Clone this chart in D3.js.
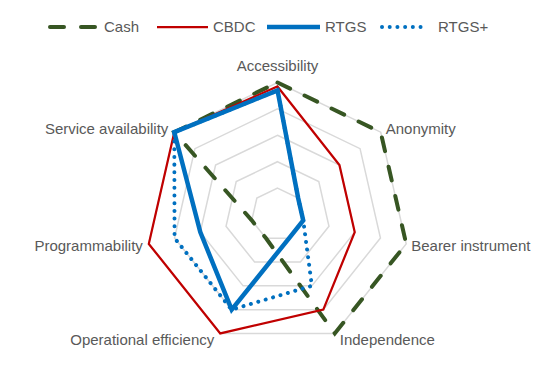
<!DOCTYPE html>
<html>
<head>
<meta charset="utf-8">
<script src="https://cdn.jsdelivr.net/npm/d3@7"></script>
<style>
body { margin: 0; background: #fff; }
text { font-family: "Liberation Sans", Arial, sans-serif; font-size: 15px; fill: #595959; }
</style>
</head>
<body>
<div id="chart"></div>
<script>
//data

var axisLabels = ['Accessibility', 'Anonymity', 'Bearer instrument', 'Independence',
	'Operational efficiency', 'Programmability', 'Service availability'];
var seriesNames = ['Cash', 'CBDC', 'RTGS', 'RTGS+'];
var cash = [5, 5, 5, 5, 1, 1, 5];
var cbdc = [4.85, 3, 3, 4, 5, 5, 5];
var rtgs = [4.7, 1, 1, 1, 4, 3, 5];
var rtgsPlus = [4.7, 1, 1, 3, 4, 4, 5];
var ringValues = [1, 2, 3, 4, 5];


//constants

var width = 557,
	height = 366,
	cx = 277.5,
	cy = 214.5,
	radius = 132;

var styles = [
	{color: '#375623', width: 4, dash: '14,16', cap: 'round'},
	{color: '#c00000', width: 2.25, dash: null, cap: 'butt'},
	{color: '#0070c0', width: 4.5, dash: null, cap: 'butt'},
	{color: '#0070c0', width: 4, dash: '0.01,7.7', cap: 'round'}
];


//drawing area

var svg = d3.select('#chart')
	.append('svg')
	.attr('width', width)
	.attr('height', height);

var r = d3.scaleLinear().domain([0, 5]).range([0, radius]);
var angle = d3.scaleLinear().domain([0, axisLabels.length]).range([0, 2 * Math.PI]);

var radar = d3.lineRadial()
	.angle(function(d, i){ return angle(i); })
	.radius(function(d){ return r(d); })
	.curve(d3.curveLinearClosed);

var g = svg.append('g').attr('transform', 'translate(' + cx + ',' + cy + ')');


//grid rings

g.selectAll('path.ring')
	.data(ringValues)
	.enter()
	.append('path')
	.classed('ring', true)
	.attr('d', function(v){ return radar(axisLabels.map(function(){ return v; })); })
	.attr('fill', 'none')
	.attr('stroke', '#d9d9d9')
	.attr('stroke-width', 1.5);


//series

var data = [cash, cbdc, rtgs, rtgsPlus];

g.selectAll('path.series')
	.data(data)
	.enter()
	.append('path')
	.classed('series', true)
	.attr('d', function(d){ return radar(d); })
	.attr('fill', 'none')
	.attr('stroke', function(d, i){ return styles[i].color; })
	.attr('stroke-width', function(d, i){ return styles[i].width; })
	.attr('stroke-dasharray', function(d, i){ return styles[i].dash; })
	.attr('stroke-linecap', function(d, i){ return styles[i].cap; })
	.attr('stroke-linejoin', 'miter');


//axis labels

g.selectAll('text.axis')
	.data(axisLabels)
	.enter()
	.append('text')
	.classed('axis', true)
	.attr('x', function(d, i){
		var s = Math.sin(angle(i));
		return r(5) * s + (Math.abs(s) < 0.1 ? 0 : (s > 0 ? 5 : -6));
	})
	.attr('y', function(d, i){
		var c = -Math.cos(angle(i));
		var off = c < -0.9 ? -17 : (c > 0.8 ? 6 : (c > 0 ? 2 : -3));
		return r(5) * c + off;
	})
	.attr('dy', '0.35em')
	.attr('text-anchor', function(d, i){
		var s = Math.sin(angle(i));
		return Math.abs(s) < 0.1 ? 'middle' : (s > 0 ? 'start' : 'end');
	})
	.text(function(d){ return d; });


//legend

var legendX = [50, 157, 267, 382],
	legendLen = [45, 51, 53, 46],
	legendY = 27;

var legend = svg.selectAll('g.legend')
	.data(seriesNames)
	.enter()
	.append('g')
	.classed('legend', true);

legend.append('line')
	.attr('x1', function(d, i){ return legendX[i]; })
	.attr('x2', function(d, i){ return legendX[i] + legendLen[i]; })
	.attr('y1', legendY)
	.attr('y2', legendY)
	.attr('stroke', function(d, i){ return styles[i].color; })
	.attr('stroke-width', function(d, i){ return styles[i].width; })
	.attr('stroke-dasharray', function(d, i){ return i == 0 ? '14,17' : styles[i].dash; })
	.attr('stroke-linecap', function(d, i){ return styles[i].cap; });

legend.append('text')
	.attr('x', function(d, i){ return legendX[i] + legendLen[i] + (i == 0 ? 9 : (i == 3 ? 10 : 5)); })
	.attr('y', legendY)
	.attr('dy', '0.35em')
	.text(function(d){ return d; });
</script>
</body>
</html>
